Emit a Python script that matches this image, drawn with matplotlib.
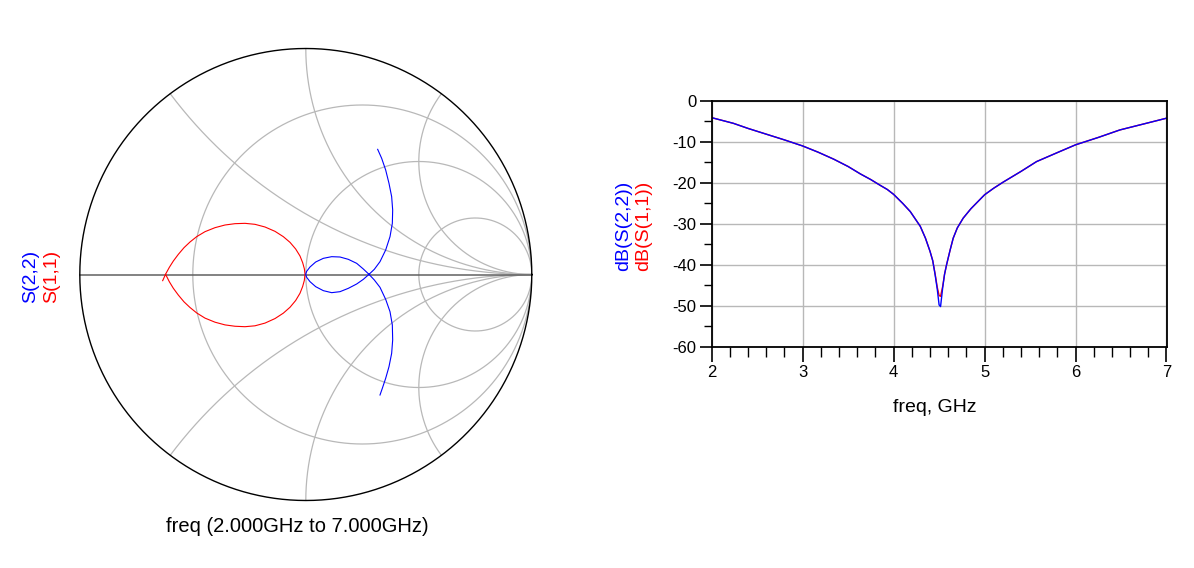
import numpy as np
import matplotlib.pyplot as plt

plt.rcParams['font.family'] = ['Liberation Sans', 'DejaVu Sans']
plt.rcParams['axes.unicode_minus'] = False

s11_re = [-0.6333, -0.6200, -0.6038, -0.5861, -0.5640, -0.5389, -0.5124, -0.4829,
          -0.4460, -0.4018, -0.3575, -0.3133, -0.2690, -0.2248, -0.1805, -0.1363,
          -0.0994, -0.0699, -0.0448, -0.0257, -0.0139, -0.0065, -0.0035,
          -0.0065, -0.0139, -0.0257, -0.0448, -0.0699, -0.0994, -0.1363, -0.1805,
          -0.2248, -0.2690, -0.3133, -0.3575, -0.4018, -0.4460, -0.4829, -0.5124,
          -0.5389, -0.5640, -0.5861, -0.6038, -0.6200]
s11_im = [-0.0273, 0.0022, 0.0317, 0.0597, 0.0892, 0.1187, 0.1438, 0.1674,
          0.1895, 0.2072, 0.2190, 0.2249, 0.2264, 0.2220, 0.2102, 0.1910,
          0.1674, 0.1423, 0.1128, 0.0819, 0.0524, 0.0258, 0.0022,
          -0.026, -0.053, -0.083, -0.115, -0.145, -0.171, -0.195, -0.215,
          -0.227, -0.231, -0.229, -0.223, -0.211, -0.193, -0.170, -0.146,
          -0.121, -0.091, -0.061, -0.032, 0.0]

s22_re = [0.3180, 0.3357, 0.3534, 0.3681, 0.3799, 0.3844, 0.3829, 0.3726, 0.3534,
          0.3283, 0.3032, 0.2796, 0.2546, 0.2251, 0.1882, 0.1513, 0.1145, 0.0776,
          0.0437, 0.0186, 0.0038, -0.0006, 0.0038, 0.0186, 0.0437, 0.0776, 0.1145,
          0.1513, 0.1882, 0.2251, 0.2546, 0.2796, 0.3032, 0.3283, 0.3534, 0.3726,
          0.3829, 0.3844, 0.3799, 0.3681, 0.3534, 0.3386, 0.3283]
s22_im = [0.5538, 0.5140, 0.4624, 0.4034, 0.3444, 0.2854, 0.2264, 0.1674, 0.1084,
          0.0568, 0.0229, 0.0007, -0.0214, -0.0420, -0.0612, -0.0760, -0.0804,
          -0.0715, -0.0538, -0.0317, -0.0125, 0.0007, 0.0140, 0.0332, 0.0553,
          0.0715, 0.0789, 0.0774, 0.0671, 0.0494, 0.0243, 0.0007, -0.0243,
          -0.0568, -0.1099, -0.1645, -0.2235, -0.2898, -0.3488, -0.4078, -0.4594,
          -0.5037, -0.5332]

# magnitude in dB
freq_ghz = [2.0, 2.238, 2.4, 2.604, 2.8, 3.0, 3.17, 3.341, 3.5, 3.634, 3.75, 3.853,
            3.93, 4.0, 4.1, 4.183, 4.293, 4.35, 4.40, 4.43, 4.456, 4.48, 4.50,
            4.516, 4.54, 4.56, 4.582, 4.62, 4.655, 4.70, 4.765, 4.85, 5.0, 5.1,
            5.205, 5.4, 5.571, 5.8, 6.0, 6.25, 6.487, 6.75, 7.0]
s22_db = [-4.07, -5.45, -6.7, -8.13, -9.5, -10.98, -12.5, -14.2, -16.0, -17.8, -19.2,
          -20.6, -21.6, -22.8, -25.0, -27.0, -30.6, -33.5, -36.7, -39.0, -42.4, -46.0,
          -49.8, -50.2, -45.5, -42.3, -40.0, -36.5, -33.5, -31.0, -28.6, -26.3, -22.9,
          -21.3, -19.8, -17.2, -14.8, -12.6, -10.7, -8.9, -7.07, -5.6, -4.2]
s11_db = [-4.07, -5.45, -6.7, -8.13, -9.5, -10.98, -12.5, -14.2, -16.0, -17.8, -19.2,
          -20.6, -21.6, -22.8, -25.0, -27.0, -30.6, -33.5, -36.7, -39.0, -42.2, -45.5,
          -47.5, -47.7, -45.2, -42.3, -40.0, -36.5, -33.5, -31.0, -28.6, -26.3, -22.9,
          -21.3, -19.8, -17.2, -14.8, -12.6, -10.7, -8.9, -7.07, -5.6, -4.2]

r_grid = [1 / 3, 1, 3]
x_grid = [0.5, 1, 2]

W, H = 1194, 568
fig = plt.figure(figsize=(W / 100, H / 100), dpi=100)

# ---- Smith chart ----
cx, cy, R = 305.8, 274.5, 226
ax_s = fig.add_axes([(cx - R) / W, (H - cy - R) / H, 2 * R / W, 2 * R / H])
ax_s.set_xlim(-1, 1)
ax_s.set_ylim(-1, 1)
ax_s.axis('off')

grid_col = '#b8b8b8'
t = np.linspace(0, 2 * np.pi, 721)
for r in r_grid:
    c = r / (1 + r)
    rad = 1 / (1 + r)
    ax_s.plot(c + rad * np.cos(t), rad * np.sin(t), color=grid_col, lw=0.9)

rr = np.concatenate([[0], np.geomspace(1e-3, 1e5, 1500)])
for x in x_grid:
    for sx in (x, -x):
        z = rr + 1j * sx
        g = (z - 1) / (z + 1)
        ax_s.plot(g.real, g.imag, color=grid_col, lw=0.9)

ax_s.plot([-1, 1], [0, 0], color='#606060', lw=1.1, clip_on=False)
ax_s.plot(np.cos(t), np.sin(t), color='black', lw=1.0, clip_on=False)

ax_s.plot(s11_re, s11_im, color='red', lw=0.8)
ax_s.plot(s22_re, s22_im, color='blue', lw=0.8)

fig.text(31 / W, 1 - 276 / H, 'S(2,2)', rotation=90, color='blue',
         ha='center', va='center', fontsize=14)
fig.text(52 / W, 1 - 276 / H, 'S(1,1)', rotation=90, color='red',
         ha='center', va='center', fontsize=14)
fig.text(297 / W, 1 - 527 / H, 'freq (2.000GHz to 7.000GHz)',
         ha='center', va='center', fontsize=14.5)

# ---- dB plot ----
x0, x1, y0, y1 = 711.7, 1166.5, 101, 346.7
ax = fig.add_axes([x0 / W, (H - y1) / H, (x1 - x0) / W, (y1 - y0) / H])
ax.plot(freq_ghz, s11_db, color='red', lw=1.0)
ax.plot(freq_ghz, s22_db, color='blue', lw=1.0)
ax.set_xlim(2, 7)
ax.set_ylim(-60, 0)
ax.set_xticks(range(2, 8))
ax.set_yticks(range(-60, 1, 10))
ax.set_xticks(np.arange(2, 7.01, 0.2), minor=True)
ax.set_yticks(range(-55, 0, 10), minor=True)
ax.grid(True, which='major', color=grid_col, lw=1.0)
ax.set_axisbelow(True)
for s in ax.spines.values():
    s.set_color('black')
    s.set_linewidth(1.3)
ax.tick_params(axis='x', which='major', length=11, width=1.2, labelsize=12, pad=2)
ax.tick_params(axis='x', which='minor', length=7, width=1.0)
ax.tick_params(axis='y', which='major', length=9, width=1.2, labelsize=12, pad=2)
ax.tick_params(axis='y', which='minor', length=6, width=1.0)

fig.text(624 / W, 1 - 226 / H, 'dB(S(2,2))', rotation=90, color='blue',
         ha='center', va='center', fontsize=14)
fig.text(644 / W, 1 - 226 / H, 'dB(S(1,1))', rotation=90, color='red',
         ha='center', va='center', fontsize=14)
fig.text(935 / W, 1 - 408 / H, 'freq, GHz', ha='center', va='center', fontsize=14)

fig.savefig('out.png', dpi=100)
